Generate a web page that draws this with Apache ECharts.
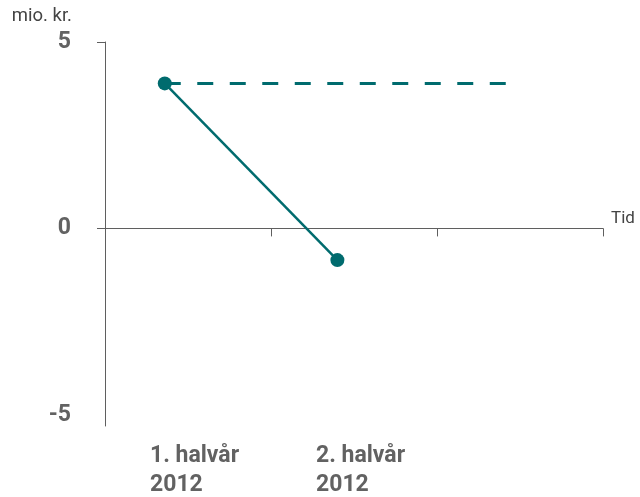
<!DOCTYPE html>
<html>
<head>
<meta charset="utf-8">
<script src="https://cdn.jsdelivr.net/npm/echarts@6/dist/echarts.min.js"></script>
<style>html,body{margin:0;padding:0;background:#fff;}#c{width:640px;height:497px;}</style>
</head>
<body>
<div id="c"></div>
<script>
// Data
const categories = ['1. halvår\n2012', '2. halvår\n2012', '', ''];
const pointX = [0.36, 1.40];
const pointY = [3.89, -0.85];
const forecastEndX = 2.42;
const yLabelValues = [-5, 0, 5];
const yTickValues = [0, 5];

const teal = '#006b6e';
const axisGray = '#5f5f5f';
const textGray = '#626262';

const solidData = pointX.map((x, i) => [x, pointY[i]]);
const dashedData = [[pointX[0], pointY[0]], [forecastEndX, pointY[0]]];

const chart = echarts.init(document.getElementById('c'), null, {renderer: 'canvas'});
chart.setOption({
  animation: false,
  grid: {left: 105, top: 42, right: 37, bottom: 71, containLabel: false, outerBoundsMode: 'none'},
  xAxis: [
    {
      type: 'value', min: 0, max: 3, interval: 1,
      axisLine: {show: true, onZero: true, lineStyle: {color: axisGray, width: 1}},
      axisTick: {show: true, inside: false, length: 8, lineStyle: {color: axisGray}},
      axisLabel: {show: false},
      splitLine: {show: false},
      name: 'Tid', nameLocation: 'end', nameGap: 8,
      nameTextStyle: {fontFamily: 'Roboto', fontSize: 17, color: '#444', verticalAlign: 'bottom', lineHeight: 20}
    },
    {
      type: 'category', data: categories, boundaryGap: false, position: 'bottom',
      axisLine: {show: false, onZero: false}, axisTick: {show: false},
      axisLabel: {
        show: true, interval: 0, align: 'left', margin: 16,
        padding: [0, 0, 0, 45],
        fontFamily: 'Roboto', fontWeight: 'bold', fontSize: 23, lineHeight: 29, color: textGray
      },
      splitLine: {show: false}
    }
  ],
  yAxis: {
    type: 'value', min: -5.3, max: 5,
    axisLine: {show: true, lineStyle: {color: axisGray, width: 1}},
    axisTick: {show: true, length: 8, customValues: yTickValues, lineStyle: {color: axisGray}},
    axisLabel: {show: true, customValues: yLabelValues, margin: 34,
      fontFamily: 'Roboto', fontWeight: 'bold', fontSize: 23, color: textGray},
    splitLine: {show: false},
    name: 'mio. kr.', nameLocation: 'end', nameGap: 16,
    nameTextStyle: {fontFamily: 'Roboto', fontSize: 18.5, color: '#444', align: 'right', padding: [0, 33, 0, 0]}
  },
  series: [
    {
      type: 'line', xAxisIndex: 0, data: dashedData,
      showSymbol: false, symbol: 'none',
      lineStyle: {color: teal, width: 3, type: [16, 16.5]}, z: 2
    },
    {
      type: 'line', xAxisIndex: 0, data: solidData,
      symbol: 'circle', symbolSize: 14, showSymbol: true,
      itemStyle: {color: teal},
      lineStyle: {color: teal, width: 2.5}, z: 3
    }
  ]
});
</script>
</body>
</html>
